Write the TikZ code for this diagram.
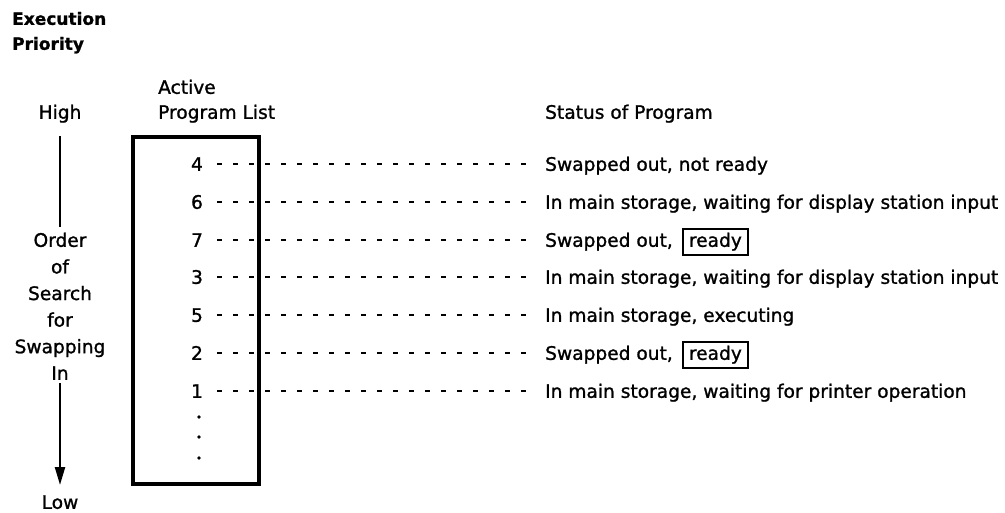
\documentclass[tikz,border=0pt]{standalone}
\usepackage{fontspec}
\setmainfont{DejaVu Sans}[FakeBold=1.2]
\usetikzlibrary{arrows.meta,positioning}

\tikzset{
  lbl/.style={inner sep=0pt, text height=13.6pt, text depth=0pt,
    font=\fontsize{18.6}{22}\selectfont},
  head/.style={lbl, anchor=west, font=\fontsize{17}{20}\selectfont\bfseries},
  stat/.style={lbl, anchor=west},
  readybox/.style={draw, line width=2pt, inner xsep=6pt, inner ysep=4pt,
    text height=13.6pt, text depth=4pt, font=\fontsize{18.6}{22}\selectfont},
  link/.style={line width=2.2pt, dash pattern=on 5pt off 11pt,
    shorten <=14pt, shorten >=19pt},
}

\begin{document}
\begin{tikzpicture}[x=1pt, y=-1pt, >={Triangle[length=18pt,width=10pt]}]
  \useasboundingbox (0,0) rectangle (1005,512);
  % Headings
  \node[head] (exec) at (12,18) {Execution};
  \node[head] (prio) at (12,43) {Priority};
  \node[lbl] (high) at (60,112) {High};
  \node[lbl, anchor=west] (active) at (158,87) {Active};
  \node[lbl, anchor=west] (plist) at (158,112) {Program List};
  \node[stat] (status) at (545,112) {Status of Program};
  % Order of search
  \foreach \w [count=\i] in {Order,of,Search,for,Swapping,In}
    \node[lbl] (ord\i) at (60,213.4+26.6*\i) {\w};
  \node[lbl] (low) at (60,502) {Low};
  \draw[line width=2.2pt, shorten <=17pt, shorten >=6pt] (high) -- (ord1);
  \draw[->, line width=2.2pt, shorten <=3pt, shorten >=10pt] (ord6) -- (low);
  % Active program list
  \node[draw, line width=3.3pt, minimum width=126pt, minimum height=347pt,
    inner sep=0pt] (list) at (196,310.5) {};
  \node[lbl] (p4) at (197,164) {4};
  \node[lbl] (p6) at (197,202) {6};
  \node[lbl] (p7) at (197,240) {7};
  \node[lbl] (p3) at (197,277) {3};
  \node[lbl] (p5) at (197,315) {5};
  \node[lbl] (p2) at (197,353) {2};
  \node[lbl] (p1) at (197,391) {1};
  \foreach \y in {417,437,458}
    \fill (199,\y) circle (1.8pt);
  % Status
  \node[stat] (st4) at (545,164) {Swapped out, not ready};
  \node[stat] (st6) at (545,202) {In main storage, waiting for display station input};
  \node[stat] (st7) at (545,240) {Swapped out,};
  \node[readybox, base right=9pt of st7] (rdy7) {ready};
  \node[stat] (st3) at (545,277) {In main storage, waiting for display station input};
  \node[stat] (st5) at (545,315) {In main storage, executing};
  \node[stat] (st2) at (545,353) {Swapped out,};
  \node[readybox, base right=9pt of st2] (rdy2) {ready};
  \node[stat] (st1) at (545,391) {In main storage, waiting for printer operation};
  % Links
  \foreach \n in {4,6,7,3,5,2,1}
    \draw[link] (p\n) -- (st\n);
\end{tikzpicture}
\end{document}
